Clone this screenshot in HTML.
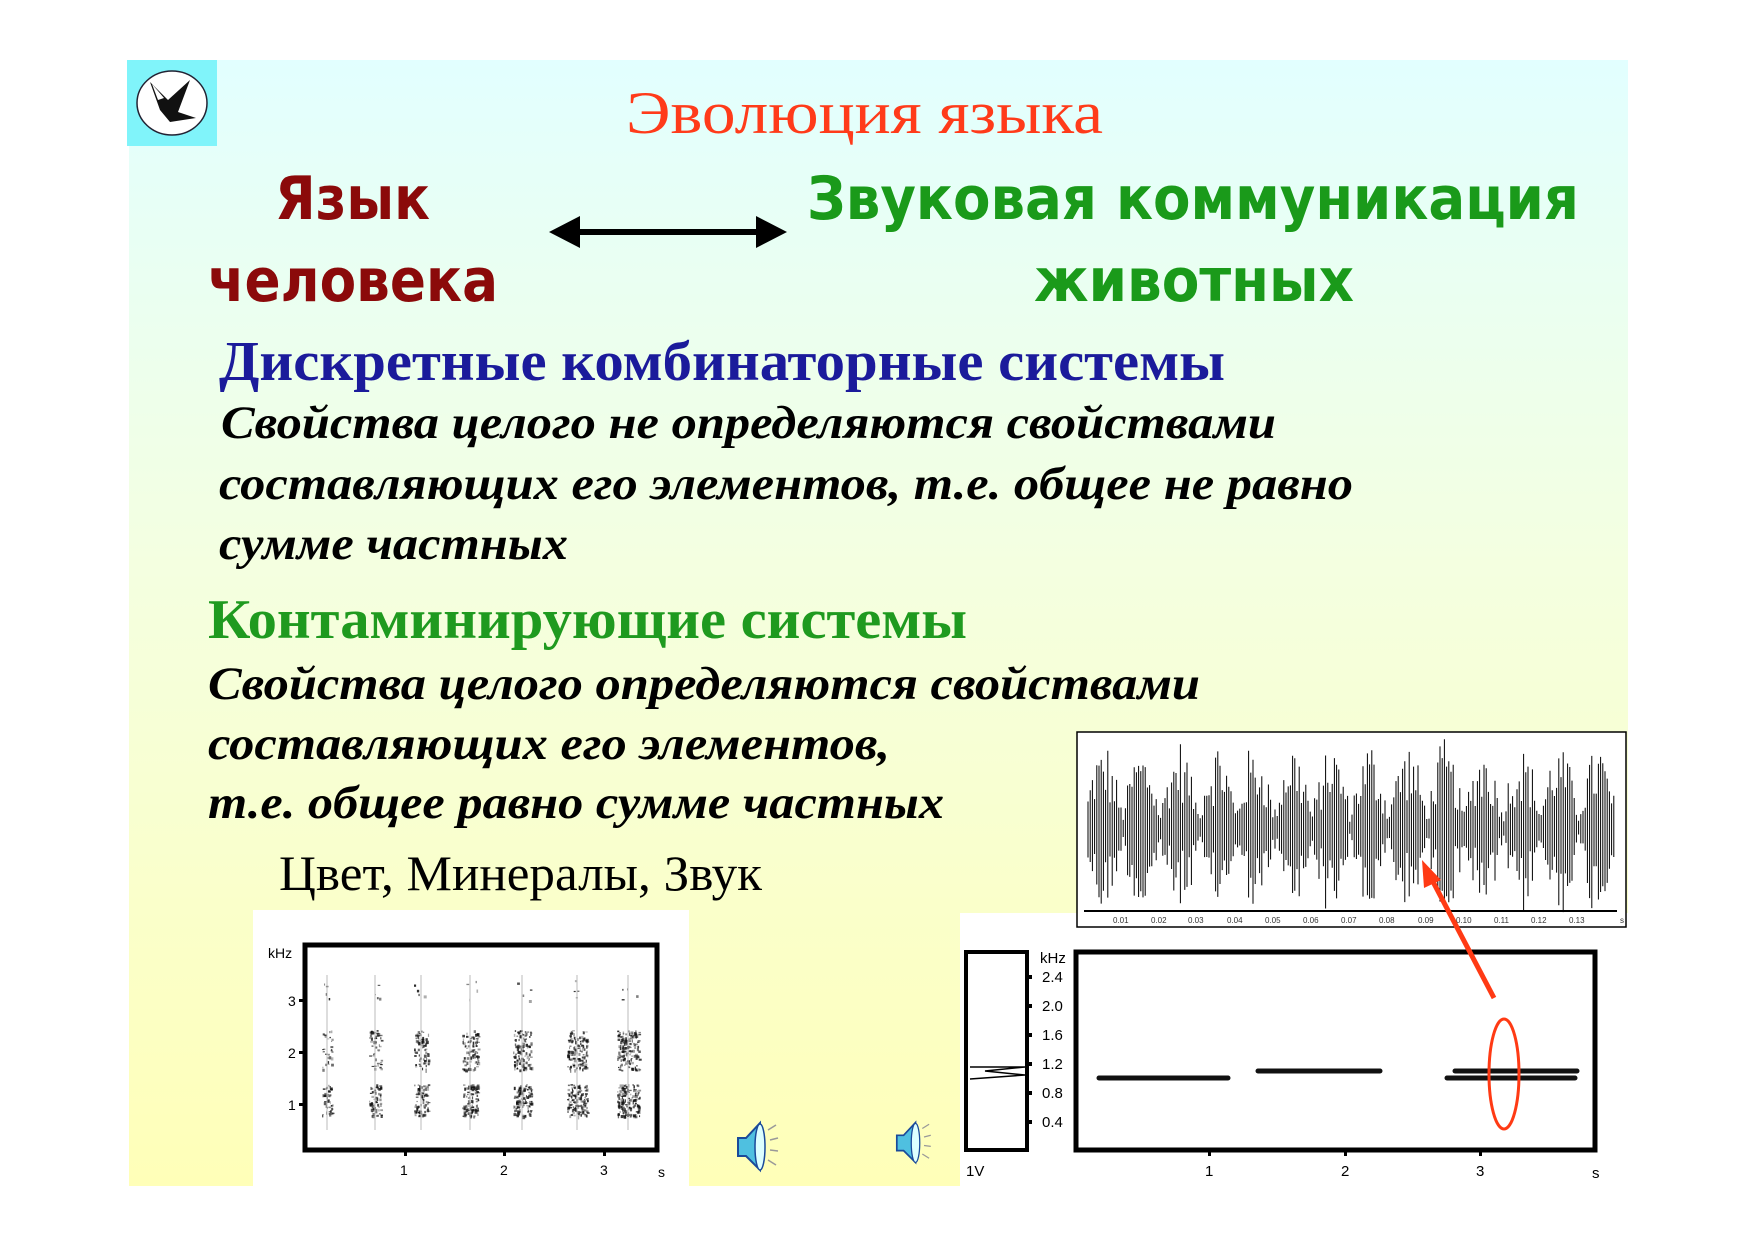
<!DOCTYPE html>
<html><head><meta charset="utf-8">
<style>
html,body{margin:0;padding:0;background:#fff;}
svg{display:block;}
</style></head>
<body>
<svg id="s" width="1754" height="1240" viewBox="0 0 1754 1240" xmlns="http://www.w3.org/2000/svg">
<defs>
<linearGradient id="bg" x1="0" y1="0" x2="0" y2="1">
<stop offset="0" stop-color="#e2ffff"/>
<stop offset="0.45" stop-color="#f4ffe0"/>
<stop offset="1" stop-color="#ffffb8"/>
</linearGradient>
</defs>
<rect x="129" y="60" width="1499" height="1126" fill="url(#bg)"/>
<!-- logo -->
<rect x="127" y="60" width="90" height="86" fill="#80f4fa"/>
<ellipse cx="172" cy="103" rx="35" ry="32" fill="#fff" stroke="#223" stroke-width="1.5"/>
<path d="M150 82 L168 100 L190 80 L178 112 L196 118 L170 122 L160 110 Z" fill="#111"/>
<path d="M152 84 L164 98 L158 100 Z" fill="#fff"/>
<!-- title -->
<text x="626" y="133" font-family="Liberation Serif, serif" font-size="60" fill="#ff3b1a" textLength="477" lengthAdjust="spacingAndGlyphs">Эволюция языка</text>
<g font-family="DejaVu Sans, sans-serif" font-weight="bold" font-size="60">
<text x="275" y="219" fill="#8b0a0a" textLength="155" lengthAdjust="spacingAndGlyphs">Язык</text>
<text x="208" y="301" fill="#8b0a0a" textLength="290" lengthAdjust="spacingAndGlyphs">человека</text>
<text x="807" y="219" fill="#1a9a1a" textLength="772" lengthAdjust="spacingAndGlyphs">Звуковая коммуникация</text>
<text x="1034" y="301" fill="#1a9a1a" textLength="320" lengthAdjust="spacingAndGlyphs">животных</text>
</g>
<!-- double arrow -->
<line x1="570" y1="232" x2="766" y2="232" stroke="#000" stroke-width="6"/>
<polygon points="549,232 580,216 580,248" fill="#000"/>
<polygon points="787,232 756,216 756,248" fill="#000"/>
<g font-family="Liberation Serif, serif" font-weight="bold">
<text x="219" y="380" font-size="56" fill="#1b1b9b" textLength="1006" lengthAdjust="spacingAndGlyphs">Дискретные комбинаторные системы</text>
<g font-style="italic" font-size="47" fill="#000">
<text x="221" y="438" textLength="1055" lengthAdjust="spacingAndGlyphs">Свойства целого не определяются свойствами</text>
<text x="219" y="499" textLength="1134" lengthAdjust="spacingAndGlyphs">составляющих его элементов, т.е. общее не равно</text>
<text x="219" y="559" textLength="349" lengthAdjust="spacingAndGlyphs">сумме частных</text>
<text x="208" y="699" textLength="992" lengthAdjust="spacingAndGlyphs">Свойства целого определяются свойствами</text>
<text x="208" y="759" textLength="682" lengthAdjust="spacingAndGlyphs">составляющих его элементов,</text>
<text x="208" y="818" textLength="736" lengthAdjust="spacingAndGlyphs">т.е. общее равно сумме частных</text>
</g>
<text x="208" y="638" font-size="56" fill="#1f9a1f" textLength="759" lengthAdjust="spacingAndGlyphs">Контаминирующие системы</text>
</g>
<text x="279" y="890" font-family="Liberation Serif, serif" font-size="50" fill="#000" textLength="483" lengthAdjust="spacingAndGlyphs">Цвет, Минералы, Звук</text>

<!-- left spectrogram -->
<rect x="253" y="910" width="436" height="276" fill="#fff"/>
<rect x="305" y="945" width="352" height="205" fill="#fff" stroke="#000" stroke-width="5"/>
<g id="blobs"></g>
<g font-family="Liberation Sans, sans-serif" font-size="14" fill="#000">
<text x="268" y="958">kHz</text>
<text x="288" y="1006">3</text>
<text x="288" y="1058">2</text>
<text x="288" y="1110">1</text>
<text x="400" y="1175">1</text><text x="500" y="1175">2</text><text x="600" y="1175">3</text><text x="658" y="1177">s</text>
</g>
<g fill="#000"><rect x="299" y="999" width="5" height="3"/><rect x="299" y="1051" width="5" height="3"/><rect x="299" y="1103" width="5" height="3"/>
<rect x="404" y="1150" width="3" height="6"/><rect x="503" y="1150" width="3" height="6"/><rect x="603" y="1150" width="3" height="6"/></g>

<!-- speakers -->
<g transform="translate(730,1120)">
<polygon points="8,18 16,18 30,3 30,50 16,36 8,36" fill="#4fc0e0" stroke="#1a4a9a" stroke-width="2"/>
<ellipse cx="30" cy="27" rx="5" ry="23" fill="#dff" stroke="#1a4a9a" stroke-width="1.5"/>
<g stroke="#999" stroke-width="1.5"><line x1="38" y1="10" x2="46" y2="5"/><line x1="40" y1="20" x2="48" y2="18"/><line x1="40" y1="30" x2="48" y2="31"/><line x1="38" y1="40" x2="46" y2="45"/></g>
</g>
<g transform="translate(890,1120) scale(0.85)">
<polygon points="8,18 16,18 30,3 30,50 16,36 8,36" fill="#4fc0e0" stroke="#1a4a9a" stroke-width="2"/>
<ellipse cx="30" cy="27" rx="5" ry="23" fill="#dff" stroke="#1a4a9a" stroke-width="1.5"/>
<g stroke="#999" stroke-width="1.5"><line x1="38" y1="10" x2="46" y2="5"/><line x1="40" y1="20" x2="48" y2="18"/><line x1="40" y1="30" x2="48" y2="31"/><line x1="38" y1="40" x2="46" y2="45"/></g>
</g>

<!-- right spectrogram -->
<rect x="960" y="913" width="668" height="273" fill="#fff"/>
<rect x="966" y="952" width="61" height="198" fill="#fff" stroke="#000" stroke-width="4"/>
<polyline points="970,1067 1025,1067 985,1071 1025,1075 970,1079" fill="none" stroke="#000" stroke-width="1.5"/>
<rect x="1076" y="952" width="519" height="198" fill="#fff" stroke="#000" stroke-width="5"/>
<g fill="#000"><rect x="1028" y="975" width="4" height="4"/><rect x="1028" y="1004" width="4" height="4"/><rect x="1028" y="1033" width="4" height="4"/><rect x="1028" y="1062" width="4" height="4"/><rect x="1028" y="1091" width="4" height="4"/><rect x="1028" y="1120" width="4" height="4"/>
<rect x="1208" y="1150" width="3" height="6"/><rect x="1344" y="1150" width="3" height="6"/><rect x="1479" y="1150" width="3" height="6"/></g>
<g font-family="Liberation Sans, sans-serif" font-size="15" fill="#000">
<text x="1040" y="963">kHz</text>
<text x="1042" y="982">2.4</text><text x="1042" y="1011">2.0</text><text x="1042" y="1040">1.6</text><text x="1042" y="1069">1.2</text><text x="1042" y="1098">0.8</text><text x="1042" y="1127">0.4</text>
<text x="1205" y="1176">1</text><text x="1341" y="1176">2</text><text x="1476" y="1176">3</text><text x="1592" y="1178">s</text><text x="966" y="1176">1V</text>
</g>
<g stroke="#111" stroke-width="5" stroke-linecap="round">
<line x1="1099" y1="1078" x2="1228" y2="1078"/>
<line x1="1258" y1="1071" x2="1380" y2="1071"/>
<line x1="1455" y1="1071" x2="1577" y2="1071"/>
<line x1="1447" y1="1078" x2="1575" y2="1078"/>
</g>
<!-- waveform -->
<rect x="1077" y="732" width="549" height="195" fill="#fff" stroke="#000" stroke-width="1.5"/>
<path id="wave" fill="none" stroke="#000" stroke-width="1"/>
<line x1="1084" y1="911" x2="1617" y2="911" stroke="#000" stroke-width="2"/>
<g font-family="Liberation Sans, sans-serif" font-size="8" fill="#333">
<text x="1113" y="923">0.01</text><text x="1151" y="923">0.02</text><text x="1188" y="923">0.03</text><text x="1227" y="923">0.04</text><text x="1265" y="923">0.05</text><text x="1303" y="923">0.06</text><text x="1341" y="923">0.07</text><text x="1379" y="923">0.08</text><text x="1418" y="923">0.09</text><text x="1456" y="923">0.10</text><text x="1494" y="923">0.11</text><text x="1531" y="923">0.12</text><text x="1569" y="923">0.13</text><text x="1620" y="923">s</text>
</g>
<!-- red arrow & ellipse -->
<line x1="1494" y1="998" x2="1430" y2="876" stroke="#ff3a14" stroke-width="5"/>
<polygon points="1422,860 1441,880 1424,888" fill="#ff3a14"/>
<ellipse cx="1504" cy="1074" rx="15" ry="55" fill="none" stroke="#ff3a14" stroke-width="3"/>
</svg>
<script>
(function(){
var r=12345;function rnd(){r=(r*1103515245+12345)&0x7fffffff;return r/0x7fffffff;}
var d="";var cy=828;
for(var x=1088;x<1616;x+=2.2){
 var ph=(x-1088)/38*2*Math.PI;
 var env=0.2+0.8*Math.abs(Math.sin(ph/2+0.3));
 var a=(25+65*rnd())*env*(rnd()<0.5?-1:1);
 d+="M"+x.toFixed(1)+" "+(cy-a).toFixed(1)+"L"+x.toFixed(1)+" "+(cy+a*0.9).toFixed(1);
}
document.getElementById("wave").setAttribute("d",d);
var g=document.getElementById("blobs");
var cols=[327,375,421,470,522,577,628];
var s="";
cols.forEach(function(cx,i){
 var w=5+i*1.0;
 var bands=[[1100,16,40+i*18],[1050,20,28+i*20],[990,10,4]];
 bands.forEach(function(b){
  for(var k=0;k<b[2];k++){
   var xx=cx+(rnd()-0.5)*w*2,yy=b[0]+(rnd()-0.5)*b[1]*2;
   s+='<rect x="'+xx.toFixed(1)+'" y="'+yy.toFixed(1)+'" width="'+(1+rnd()*2).toFixed(1)+'" height="'+(1+rnd()*2.5).toFixed(1)+'" fill="#111" opacity="'+(0.3+rnd()*0.6).toFixed(2)+'"/>';
  }
 });
 s+='<line x1="'+cx+'" y1="975" x2="'+cx+'" y2="1130" stroke="#bbb" stroke-width="1"/>';
});
g.innerHTML=s;
})();
</script>
</body></html>
